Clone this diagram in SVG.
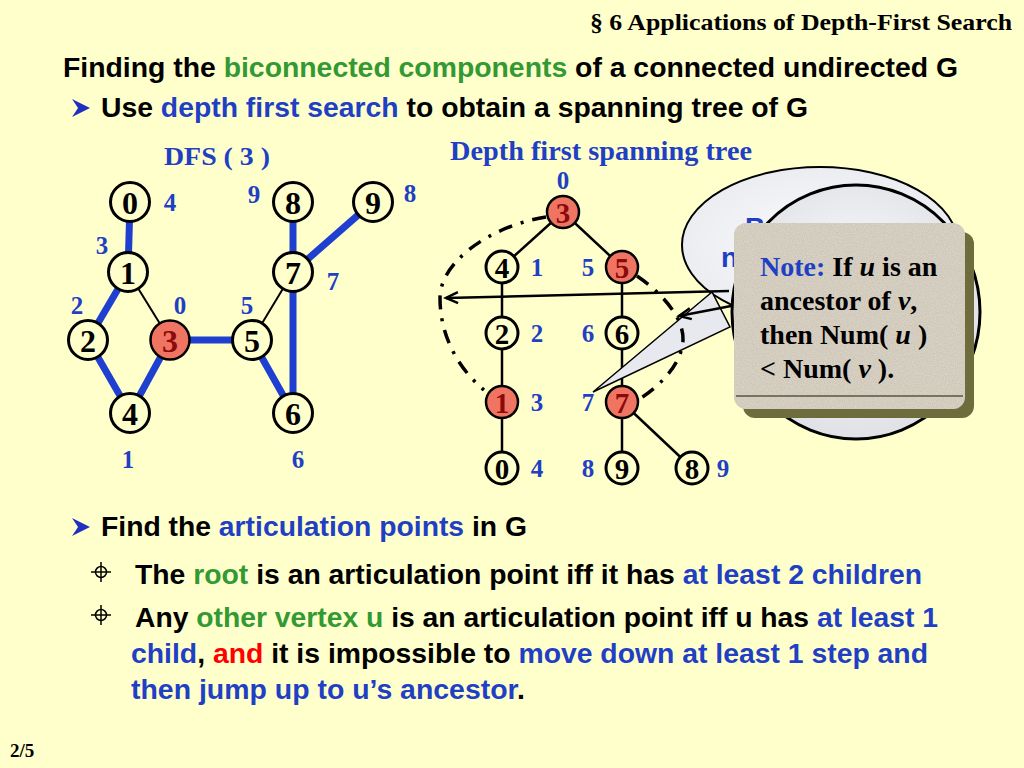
<svg xmlns="http://www.w3.org/2000/svg" width="1024" height="768" viewBox="0 0 1024 768">
<defs>
<style>
.sans{font-family:"Liberation Sans",Arial,sans-serif;font-weight:bold;font-size:28px;fill:#000}
.serif{font-family:"Liberation Serif","Times New Roman",serif;font-weight:bold}
.blue{fill:#1f3fc4}
.green{fill:#339933}
.red{fill:#ff0000}
.lbl{font-family:"Liberation Serif","Times New Roman",serif;font-weight:bold;font-size:25px;fill:#1f3fc4;text-anchor:middle;dominant-baseline:central}
.nd{fill:#ffffcc;stroke:#000;stroke-width:3}
.ndr{fill:#f07462;stroke:#000;stroke-width:2.5}
.nt{font-family:"Liberation Serif","Times New Roman",serif;font-weight:bold;font-size:32px;fill:#000;text-anchor:middle;dominant-baseline:central}
.nts{font-size:29px}
.ntr{fill:#8b0a0a}
.be{stroke:#1e3fd0;stroke-width:7;fill:none}
.te{stroke:#000;stroke-width:2;fill:none}
.tr{stroke:#000;stroke-width:2.5;fill:none}
.dd{stroke:#000;stroke-width:3.5;fill:none;stroke-dasharray:14 9 3 9}
.nb{font-family:"Liberation Serif","Times New Roman",serif;font-weight:bold;font-size:28px;fill:#000}
</style>
<marker id="arr" markerUnits="userSpaceOnUse" markerWidth="18" markerHeight="14" refX="15" refY="7" orient="auto">
<path d="M3,1.5 L15,7 L3,12.5" fill="none" stroke="#000" stroke-width="2.5"/>
</marker>
<radialGradient id="cg" cx="0.5" cy="0.45" r="0.55">
<stop offset="0" stop-color="#ffffff"/>
<stop offset="1" stop-color="#dfe1e6"/>
</radialGradient>
<radialGradient id="eg" cx="0.5" cy="0.5" r="0.6">
<stop offset="0" stop-color="#fafbfc"/>
<stop offset="1" stop-color="#e8eaef"/>
</radialGradient>
<filter id="noise" x="0" y="0" width="1" height="1">
<feTurbulence type="fractalNoise" baseFrequency="0.9" numOctaves="2" seed="3" result="n"/>
<feColorMatrix in="n" type="matrix" values="0 0 0 0 0.55  0 0 0 0 0.5  0 0 0 0 0.42  0 0 0 -1.2 0.9" result="m"/>
<feComposite in="m" in2="SourceGraphic" operator="in" result="c"/>
<feMerge><feMergeNode in="SourceGraphic"/><feMergeNode in="c"/></feMerge>
</filter>
</defs>

<rect x="0" y="0" width="1024" height="768" fill="#ffffcc"/>

<!-- headings -->
<text class="serif" x="590" y="30" font-size="24" textLength="422" lengthAdjust="spacingAndGlyphs">§ 6  Applications of Depth-First Search</text>
<text class="sans" x="63" y="77" textLength="895" lengthAdjust="spacingAndGlyphs">Finding the <tspan class="green">biconnected components</tspan> of a connected undirected G</text>
<polygon points="72,99 90,108 72,117 78,108" fill="#1f30c0"/>
<text class="sans" x="101" y="117" textLength="707" lengthAdjust="spacingAndGlyphs">Use <tspan class="blue">depth first search</tspan> to obtain a spanning tree of G</text>

<text class="serif blue" x="164" y="165" font-size="26" textLength="106" lengthAdjust="spacingAndGlyphs">DFS ( 3 )</text>
<text class="serif blue" x="450" y="160" font-size="28" textLength="302" lengthAdjust="spacingAndGlyphs">Depth first spanning tree</text>

<!-- connectors -->
<g id="connectors">
<line class="be" x1="130" y1="202" x2="128" y2="272"/>
<line class="be" x1="128" y1="272" x2="88" y2="340"/>
<line class="be" x1="88" y1="340" x2="130" y2="413"/>
<line class="be" x1="130" y1="413" x2="170" y2="340"/>
<line class="be" x1="170" y1="340" x2="252" y2="340"/>
<line class="be" x1="252" y1="340" x2="293" y2="413"/>
<line class="be" x1="293" y1="413" x2="293" y2="272"/>
<line class="be" x1="293" y1="272" x2="293" y2="202"/>
<line class="be" x1="293" y1="272" x2="373" y2="202"/>
<line class="te" x1="128" y1="272" x2="170" y2="340"/>
<line class="te" x1="252" y1="340" x2="293" y2="272"/>

<line class="tr" x1="563" y1="212" x2="502" y2="267"/>
<line class="tr" x1="563" y1="212" x2="622" y2="267"/>
<line class="tr" x1="502" y1="267" x2="502" y2="333"/>
<line class="tr" x1="502" y1="333" x2="502" y2="402"/>
<line class="tr" x1="502" y1="402" x2="502" y2="468"/>
<line class="tr" x1="622" y1="267" x2="622" y2="333"/>
<line class="tr" x1="622" y1="333" x2="622" y2="402"/>
<line class="tr" x1="622" y1="402" x2="622" y2="468"/>
<line class="tr" x1="622" y1="402" x2="692" y2="468"/>
</g>

<!-- left graph nodes -->
<g id="g-node0"><circle class="nd" cx="130" cy="202" r="19.5"/><text class="nt" x="130" y="203">0</text></g>
<g id="g-node1"><circle class="nd" cx="128" cy="272" r="19.5"/><text class="nt" x="128" y="273">1</text></g>
<g id="g-node2"><circle class="nd" cx="88" cy="340" r="19.5"/><text class="nt" x="88" y="341">2</text></g>
<g id="g-node3"><circle class="ndr" cx="170" cy="340" r="19.5"/><text class="nt ntr" x="170" y="341">3</text></g>
<g id="g-node4"><circle class="nd" cx="130" cy="413" r="19.5"/><text class="nt" x="130" y="414">4</text></g>
<g id="g-node5"><circle class="nd" cx="252" cy="340" r="19.5"/><text class="nt" x="252" y="341">5</text></g>
<g id="g-node6"><circle class="nd" cx="293" cy="413" r="19.5"/><text class="nt" x="293" y="414">6</text></g>
<g id="g-node7"><circle class="nd" cx="293" cy="272" r="19.5"/><text class="nt" x="293" y="273">7</text></g>
<g id="g-node8"><circle class="nd" cx="293" cy="202" r="19.5"/><text class="nt" x="293" y="203">8</text></g>
<g id="g-node9"><circle class="nd" cx="373" cy="202" r="19.5"/><text class="nt" x="373" y="203">9</text></g>

<g id="g-labels">
<text class="lbl" x="170" y="202">4</text>
<text class="lbl" x="102" y="245">3</text>
<text class="lbl" x="77" y="305">2</text>
<text class="lbl" x="180" y="305">0</text>
<text class="lbl" x="128" y="459">1</text>
<text class="lbl" x="247" y="305">5</text>
<text class="lbl" x="298" y="459">6</text>
<text class="lbl" x="333" y="281">7</text>
<text class="lbl" x="254" y="194">9</text>
<text class="lbl" x="410" y="193">8</text>
</g>

<!-- tree nodes -->
<g id="t-node3"><circle class="ndr" cx="563" cy="212" r="16"/><text class="nt nts ntr" x="563" y="213">3</text></g>
<g id="t-node4"><circle class="nd" cx="502" cy="267" r="16" stroke-width="2.5"/><text class="nt nts" x="502" y="268">4</text></g>
<g id="t-node5"><circle class="ndr" cx="622" cy="267" r="16"/><text class="nt nts ntr" x="622" y="268">5</text></g>
<g id="t-node2"><circle class="nd" cx="502" cy="333" r="16" stroke-width="2.5"/><text class="nt nts" x="502" y="334">2</text></g>
<g id="t-node6"><circle class="nd" cx="622" cy="333" r="16" stroke-width="2.5"/><text class="nt nts" x="622" y="334">6</text></g>
<g id="t-node1"><circle class="ndr" cx="502" cy="402" r="16"/><text class="nt nts ntr" x="502" y="403">1</text></g>
<g id="t-node7"><circle class="ndr" cx="622" cy="402" r="16"/><text class="nt nts ntr" x="622" y="403">7</text></g>
<g id="t-node0"><circle class="nd" cx="502" cy="468" r="16" stroke-width="2.5"/><text class="nt nts" x="502" y="469">0</text></g>
<g id="t-node9"><circle class="nd" cx="622" cy="468" r="16" stroke-width="2.5"/><text class="nt nts" x="622" y="469">9</text></g>
<g id="t-node8"><circle class="nd" cx="692" cy="468" r="16" stroke-width="2.5"/><text class="nt nts" x="692" y="469">8</text></g>

<g id="t-labels">
<text class="lbl" x="563" y="180">0</text>
<text class="lbl" x="537" y="267">1</text>
<text class="lbl" x="588" y="267">5</text>
<text class="lbl" x="537" y="333">2</text>
<text class="lbl" x="588" y="333">6</text>
<text class="lbl" x="537" y="402">3</text>
<text class="lbl" x="588" y="402">7</text>
<text class="lbl" x="537" y="468">4</text>
<text class="lbl" x="588" y="468">8</text>
<text class="lbl" x="723" y="468">9</text>
</g>

<!-- callouts -->
<g id="callout-ellipse">
<ellipse cx="820" cy="245" rx="138" ry="78" fill="url(#eg)" stroke="#000" stroke-width="2"/>
<text class="sans blue" x="745" y="237">B</text>
<text class="sans blue" x="721" y="267">n</text>
</g>
<g id="callout-circle">
<polygon points="712,292 593,392 730,327" fill="#e8e9ee" stroke="#000" stroke-width="1.5" stroke-linejoin="miter"/>
<ellipse cx="856" cy="312" rx="124" ry="127" fill="url(#cg)" stroke="#000" stroke-width="3"/>
</g>

<g id="connectors-over">
<path class="dd" d="M546,217 C490,226 440,262 440,298 C440,338 460,370 484,390"/>
<path class="dd" d="M637,276 C662,293 684,318 683,340 C682,363 662,384 641,398"/>
<line x1="729" y1="291" x2="446" y2="298" stroke="#000" stroke-width="2.5" marker-end="url(#arr)"/>
<line x1="731" y1="306" x2="679" y2="316" stroke="#000" stroke-width="2.5" marker-end="url(#arr)"/>
</g>

<g id="note">
<rect x="743" y="232" width="231" height="186" rx="12" fill="#6e6c3c"/>
<rect x="734" y="223" width="231" height="186" rx="12" fill="#dad4c6" filter="url(#noise)"/>
<line x1="736" y1="396" x2="963" y2="396" stroke="#5a5442" stroke-width="1.5"/>
<text class="nb" x="760" y="276"><tspan class="blue">Note:</tspan> If <tspan font-style="italic">u</tspan> is an</text>
<text class="nb" x="760" y="310">ancestor of <tspan font-style="italic">v</tspan>,</text>
<text class="nb" x="760" y="344">then Num( <tspan font-style="italic">u</tspan> )</text>
<text class="nb" x="760" y="378">&lt; Num( <tspan font-style="italic">v</tspan> ).</text>
</g>

<!-- bottom text -->
<polygon points="72,518 90,527 72,536 78,527" fill="#1f30c0"/>
<text class="sans" x="101" y="536" textLength="426" lengthAdjust="spacingAndGlyphs">Find the <tspan class="blue">articulation points</tspan> in G</text>

<g fill="none" stroke="#000" stroke-width="1.5">
<circle cx="101" cy="572" r="5.5"/>
<line x1="91" y1="572" x2="111" y2="572"/>
<line x1="101" y1="562" x2="101" y2="582"/>
<circle cx="101" cy="615" r="5.5"/>
<line x1="91" y1="615" x2="111" y2="615"/>
<line x1="101" y1="605" x2="101" y2="625"/>
</g>
<text class="sans" x="135" y="584" textLength="787" lengthAdjust="spacingAndGlyphs">The <tspan class="green">root</tspan> is an articulation point iff it has <tspan class="blue">at least 2 children</tspan></text>
<text class="sans" x="135" y="627" textLength="803" lengthAdjust="spacingAndGlyphs">Any <tspan class="green">other vertex u</tspan> is an articulation point iff u has <tspan class="blue">at least 1</tspan></text>
<text class="sans" x="131" y="663" textLength="797" lengthAdjust="spacingAndGlyphs"><tspan class="blue">child</tspan>, <tspan class="red">and</tspan> it is impossible to <tspan class="blue">move down at least 1 step and</tspan></text>
<text class="sans" x="131" y="699" textLength="394" lengthAdjust="spacingAndGlyphs"><tspan class="blue">then jump up to u’s ancestor</tspan>.</text>

<text class="serif" x="10" y="757" font-size="19">2/5</text>
</svg>
